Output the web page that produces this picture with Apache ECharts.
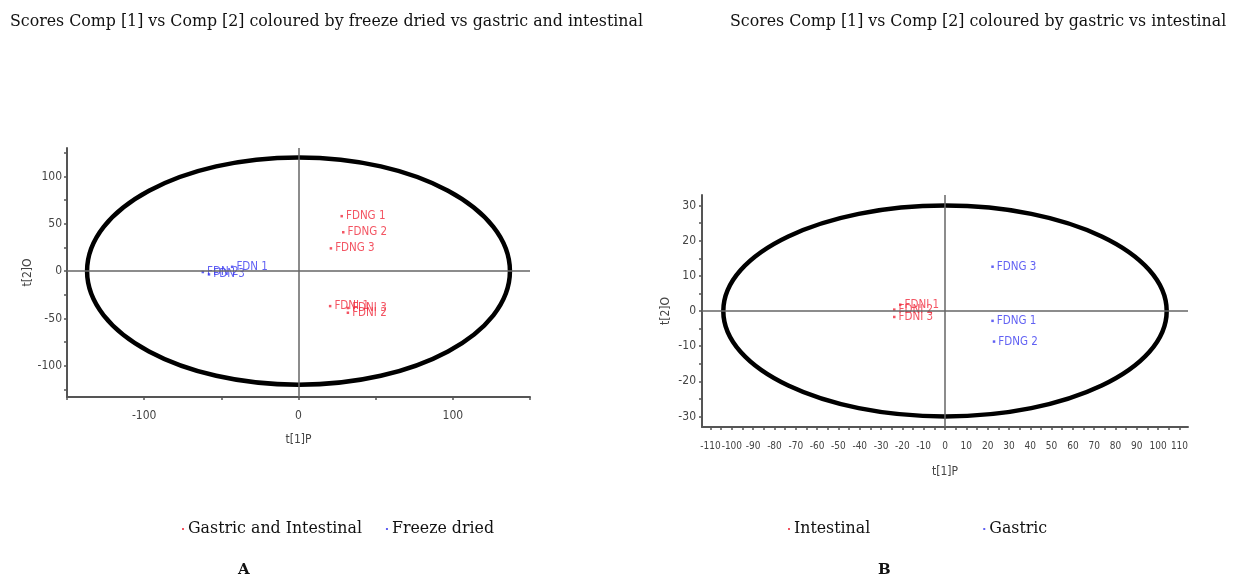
<!DOCTYPE html>
<html>
<head>
<meta charset="utf-8">
<script src="https://cdn.jsdelivr.net/npm/echarts@6/dist/echarts.min.js"></script>
<style>
html,body{margin:0;padding:0;background:#fff;}
#c{width:1233px;height:577px;}
</style>
</head>
<body>
<div id="c"></div>
<script>
// ---- Data: panel A ----
const namesA_gi = ['FDNG 1', 'FDNG 2', 'FDNG 3', 'FDNI 1', 'FDNI 3', 'FDNI 2'];
const xA_gi = [28, 29, 21, 20.5, 32, 32];
const yA_gi = [58, 41, 24, -37, -39, -44];
const namesA_fd = ['FDN 1', 'FDN 2', 'FDN 3'];
const xA_fd = [-43, -62, -58];
const yA_fd = [4.5, -1, -3.5];
const ellipseA = [0, 0, 137, 120];
const xTicksA = [-150, -100, -50, 0, 50, 100, 150];
const xLabelsA = [-100, 0, 100];
const yTicksA = [-125, -100, -75, -50, -25, 0, 25, 50, 75, 100, 125];
const yLabelsA = [-100, -50, 0, 50, 100];

// ---- Data: panel B ----
const namesB_i = ['FDNI 1', 'FDNI 2', 'FDNI 3'];
const xB_i = [-21, -23.8, -23.8];
const yB_i = [1.8, 0.4, -1.7];
const namesB_g = ['FDNG 3', 'FDNG 1', 'FDNG 2'];
const xB_g = [22.3, 22.3, 23];
const yB_g = [12.6, -2.8, -8.7];
const ellipseB = [0, 0, 104, 30];
const xTicksB = [-110,-105,-100,-95,-90,-85,-80,-75,-70,-65,-60,-55,-50,-45,-40,-35,-30,-25,-20,-15,-10,-5,0,5,10,15,20,25,30,35,40,45,50,55,60,65,70,75,80,85,90,95,100,105,110];
const xLabelsB = [-110,-100,-90,-80,-70,-60,-50,-40,-30,-20,-10,0,10,20,30,40,50,60,70,80,90,100,110];
const yTicksB = [-30,-25,-20,-15,-10,-5,0,5,10,15,20,25,30];
const yLabelsB = [-30,-20,-10,0,10,20,30];

const titles = [
  'Scores Comp [1] vs Comp [2] coloured by freeze dried vs gastric and intestinal',
  'Scores Comp [1] vs Comp [2] coloured by gastric vs intestinal'
];
const panelLetters = ['A', 'B'];
const legendA = ['Gastric and Intestinal', 'Freeze dried'];
const legendB = ['Intestinal', 'Gastric'];

const RED = '#f02a3c';
const BLUE = '#3a3af0';
const NARROW = '"Liberation Sans Narrow","Arial Narrow","DejaVu Sans Condensed","Liberation Sans",Arial,sans-serif';
const SERIF = '"DejaVu Serif","Liberation Serif",serif';
const SERIF_SIZE = 15.8;

function zip(xs, ys, ns) { return xs.map((x, i) => [x, ys[i], ns[i]]); }

function axisCommon(extra) {
  return Object.assign({
    type: 'value',
    splitLine: { show: false },
    axisLine: { onZero: false, lineStyle: { color: '#555', width: 2 } },
    nameTextStyle: { color: '#444', fontFamily: NARROW, fontSize: 12 },
    nameLocation: 'middle'
  }, extra);
}
function tick(vals) { return { length: 3, customValues: vals, lineStyle: { color: '#555', width: 1.5 } }; }
function lbl(vals, margin, size) {
  return { customValues: vals, margin: margin, color: '#444', fontFamily: NARROW, fontSize: size,
           showMinLabel: true, showMaxLabel: true, hideOverlap: false };
}

function ellipseSeries(idx, e) {
  return {
    type: 'custom', xAxisIndex: idx, yAxisIndex: idx, silent: true, z: 1,
    data: [e],
    renderItem: function (params, api) {
      const c = api.coord([api.value(0), api.value(1)]);
      const s = api.size([api.value(2), api.value(3)]);
      return {
        type: 'ellipse',
        shape: { cx: c[0], cy: c[1], rx: s[0], ry: s[1] },
        style: { fill: 'none', stroke: '#000', lineWidth: 4.5 }
      };
    }
  };
}

const crossLine = {
  silent: true, symbol: 'none', label: { show: false }, animation: false,
  lineStyle: { color: '#666', width: 1.5, type: 'solid' },
  data: [{ xAxis: 0 }, { yAxis: 0 }]
};

function scatter(name, idx, data, color, withCross) {
  const s = {
    name: name, type: 'scatter', xAxisIndex: idx, yAxisIndex: idx,
    data: data, symbol: 'rect', symbolSize: 2.5, z: 3,
    itemStyle: { color: color },
    label: {
      show: true, position: 'right', distance: 3,
      color: color, fontFamily: NARROW, fontSize: 11.5,
      formatter: p => p.data[2]
    }
  };
  if (withCross) s.markLine = crossLine;
  return s;
}

const chart = echarts.init(document.getElementById('c'), null, { renderer: 'canvas' });
chart.setOption({
  animation: false,
  backgroundColor: '#fff',
  title: [
    { text: titles[0], left: 5, top: 9, textStyle: { fontFamily: SERIF, fontSize: SERIF_SIZE, fontWeight: 'normal', color: '#111' } },
    { text: titles[1], left: 725, top: 9, textStyle: { fontFamily: SERIF, fontSize: SERIF_SIZE, fontWeight: 'normal', color: '#111' } },
    { text: panelLetters[0], left: 233, top: 558, textStyle: { fontFamily: SERIF, fontSize: 15, fontWeight: 'bold', color: '#111' } },
    { text: panelLetters[1], left: 873, top: 558, textStyle: { fontFamily: SERIF, fontSize: 15, fontWeight: 'bold', color: '#111' } }
  ],
  legend: [
    { data: legendA, left: 177, top: 516, icon: 'rect', itemWidth: 2, itemHeight: 2, itemGap: 24,
      textStyle: { fontFamily: SERIF, fontSize: SERIF_SIZE, color: '#111', padding: [0, 0, 0, -1] } },
    { data: legendB, left: 783, top: 516, icon: 'rect', itemWidth: 2, itemHeight: 2, itemGap: 113,
      textStyle: { fontFamily: SERIF, fontSize: SERIF_SIZE, color: '#111', padding: [0, 0, 0, -1] } }
  ],
  grid: [
    { left: 67, top: 148, width: 463, height: 249 },
    { left: 702, top: 195, width: 486, height: 232 }
  ],
  xAxis: [
    axisCommon({ gridIndex: 0, min: -150, max: 150, name: 't[1]P', nameGap: 37,
      axisTick: tick(xTicksA), axisLabel: lbl(xLabelsA, 13, 12) }),
    axisCommon({ gridIndex: 1, min: -114, max: 114, name: 't[1]P', nameGap: 39,
      axisTick: tick(xTicksB), axisLabel: lbl(xLabelsB, 14, 10) })
  ],
  yAxis: [
    axisCommon({ gridIndex: 0, min: -133, max: 130, name: 't[2]O', nameGap: 33,
      axisTick: tick(yTicksA), axisLabel: lbl(yLabelsA, 5, 12) }),
    axisCommon({ gridIndex: 1, min: -33, max: 33, name: 't[2]O', nameGap: 30,
      axisTick: tick(yTicksB), axisLabel: lbl(yLabelsB, 6, 12) })
  ],
  series: [
    ellipseSeries(0, ellipseA),
    scatter(legendA[0], 0, zip(xA_gi, yA_gi, namesA_gi), RED, true),
    scatter(legendA[1], 0, zip(xA_fd, yA_fd, namesA_fd), BLUE, false),
    ellipseSeries(1, ellipseB),
    scatter(legendB[0], 1, zip(xB_i, yB_i, namesB_i), RED, true),
    scatter(legendB[1], 1, zip(xB_g, yB_g, namesB_g), BLUE, false)
  ]
});
</script>
</body>
</html>
